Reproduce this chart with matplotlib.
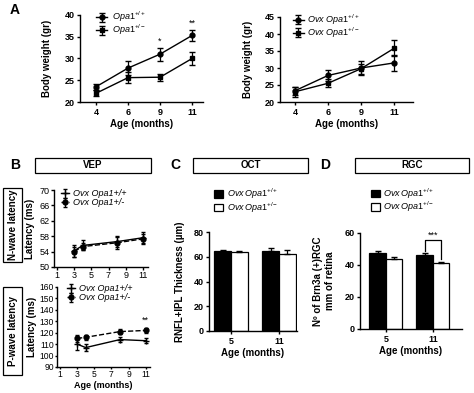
import matplotlib
matplotlib.use("Agg")
import matplotlib.pyplot as plt
from matplotlib.patches import Rectangle
import numpy as np

plt.rcParams['font.family'] = ['Liberation Sans', 'DejaVu Sans']
plt.rcParams['mathtext.fontset'] = 'custom'
plt.rcParams['mathtext.rm'] = 'Liberation Sans'
plt.rcParams['mathtext.it'] = 'Liberation Sans:italic'
plt.rcParams['font.size'] = 6.5

W, H = 474, 393

# ---- data ----
ages_a = ['4', '6', '9', '11']
wt_mean = [23.5, 27.8, 31.0, 35.3]
wt_err = [0.7, 1.6, 1.5, 1.3]
het_mean = [22.0, 25.6, 25.7, 30.0]
het_err = [0.7, 1.2, 0.8, 1.5]

ovx_wt_mean = [23.3, 27.8, 30.0, 31.5]
ovx_wt_err = [1.2, 1.5, 2.0, 2.3]
ovx_het_mean = [23.0, 25.5, 29.8, 35.8]
ovx_het_err = [1.5, 1.2, 1.5, 2.3]

ages_b = [3, 4, 8, 11]
nwave_wt = [54.2, 55.6, 56.6, 57.6]
nwave_wt_err = [1.5, 1.3, 1.5, 1.4]
nwave_het = [54.0, 55.3, 56.3, 57.3]
nwave_het_err = [1.3, 1.0, 1.5, 1.4]
pwave_wt = [110, 107, 114, 113]
pwave_wt_err = [5, 3, 2, 2]
pwave_het = [115, 116, 121, 122]
pwave_het_err = [3, 2, 2, 2]

ages_cd = ['5', '11']
oct_wt = [64.5, 64.5]
oct_wt_err = [0.7, 2.5]
oct_het = [63.5, 62.5]
oct_het_err = [0.8, 3.0]
rgc_wt = [47.5, 46.5]
rgc_wt_err = [1.5, 1.0]
rgc_het = [44.0, 41.5]
rgc_het_err = [1.0, 0.5]

fig = plt.figure(figsize=(4.74, 3.93), dpi=100)


def add_ax(x0, y0, x1, y1):
    ax = fig.add_axes([x0 / W, 1 - y1 / H, (x1 - x0) / W, (y1 - y0) / H])
    ax.spines['top'].set_visible(False)
    ax.spines['right'].set_visible(False)
    for s in ('left', 'bottom'):
        ax.spines[s].set_linewidth(1.0)
    ax.tick_params(width=1.0, length=2.5, pad=1.5, labelsize=6.5)
    return ax


def bold_ticks(ax):
    for lab in ax.get_xticklabels() + ax.get_yticklabels():
        lab.set_fontweight('bold')


def ylabel_at(ax, text, px, fs=7):
    pos = ax.get_position()
    xa = (px / W - pos.x0) / pos.width
    ax.set_ylabel(text, fontsize=fs, fontweight='bold')
    ax.yaxis.set_label_coords(xa, 0.5)


def box(x0, y0, x1, y1, text, rot=0):
    fig.add_artist(Rectangle((x0 / W, 1 - y1 / H), (x1 - x0) / W, (y1 - y0) / H,
                             transform=fig.transFigure, fill=False, lw=0.9, ec='black'))
    fig.text((x0 + x1) / 2 / W, 1 - (y0 + y1) / 2 / H, text, ha='center', va='center',
             rotation=rot, fontsize=7, fontweight='bold')


def line_panel(ax, x, m1, e1, m2, e2, lab1, lab2, mk1='o', mk2='s'):
    ax.errorbar(x, m1, yerr=e1, color='black', marker=mk1, ms=3.5, lw=1.0,
                capsize=2, elinewidth=0.9, label=lab1)
    ax.errorbar(x, m2, yerr=e2, color='black', marker=mk2, ms=3.5, lw=1.0,
                capsize=2, elinewidth=0.9, label=lab2)


# ---- Panel A left ----
ax = add_ax(80, 15, 203, 102)
xa = np.arange(len(ages_a))
line_panel(ax, xa, wt_mean, wt_err, het_mean, het_err,
           r'$\mathit{Opa1^{+/+}}$', r'$\mathit{Opa1^{+/-}}$')
ax.set_xlim(-0.5, 3.34)
ax.set_ylim(20, 40)
ax.set_yticks([20, 25, 30, 35, 40])
ax.set_xticks(xa, ages_a)
ax.set_xlabel('Age (months)', fontsize=7, fontweight='bold', labelpad=2)
ylabel_at(ax, 'Body weight (gr)', 52)
ax.text(2, 33.3, '*', ha='center', fontsize=6.5)
ax.text(3, 37.5, '**', ha='center', fontsize=6.5)
ax.legend(loc='upper left', bbox_to_anchor=(0.08, 1.13), frameon=False, fontsize=6.5,
          handlelength=1.2, labelspacing=-0.15, borderpad=0.2, handletextpad=0.5)
bold_ticks(ax)

# ---- Panel A right ----
ax = add_ax(280, 17, 413, 102)
line_panel(ax, xa, ovx_wt_mean, ovx_wt_err, ovx_het_mean, ovx_het_err,
           r'$\mathit{Ovx\ Opa1^{+/+}}$', r'$\mathit{Ovx\ Opa1^{+/-}}$')
ax.set_xlim(-0.45, 3.57)
ax.set_ylim(20, 45)
ax.set_yticks([20, 25, 30, 35, 40, 45])
ax.set_xticks(xa, ages_a)
ax.set_xlabel('Age (months)', fontsize=7, fontweight='bold', labelpad=2)
ylabel_at(ax, 'Body weight (gr)', 253)
ax.legend(loc='upper left', bbox_to_anchor=(0.05, 1.13), frameon=False, fontsize=6.5,
          handlelength=1.2, labelspacing=-0.15, borderpad=0.2, handletextpad=0.4)
bold_ticks(ax)

# ---- Panel letters and header boxes ----
fig.text(10 / W, 1 - 10 / H, 'A', fontsize=10, fontweight='bold', va='center')
fig.text(10 / W, 1 - 165 / H, 'B', fontsize=10, fontweight='bold', va='center')
fig.text(170 / W, 1 - 165 / H, 'C', fontsize=10, fontweight='bold', va='center')
fig.text(320 / W, 1 - 165 / H, 'D', fontsize=10, fontweight='bold', va='center')
box(35, 158, 151, 173, 'VEP')
box(193, 158, 308, 173, 'OCT')
box(355, 158, 469, 173, 'RGC')
box(3, 188, 22, 262, 'N-wave latency', rot=90)
box(3, 287, 22, 375, 'P-wave latency', rot=90)

# ---- Panel B: N-wave ----
ax = add_ax(54, 190, 148, 267)
ax.errorbar(ages_b, nwave_wt, yerr=nwave_wt_err, color='black', marker='+', ms=4,
            mew=1.0, lw=1.0, capsize=1.5, elinewidth=0.9, label='Ovx Opa1+/+')
ax.errorbar(ages_b, nwave_het, yerr=nwave_het_err, color='black', marker='o', ms=3.5,
            lw=1.0, ls='--', capsize=1.5, elinewidth=0.9, label='Ovx Opa1+/-')
ax.set_xlim(0.65, 11.6)
ax.set_ylim(50, 70)
ax.set_yticks(np.arange(50, 71, 4))
ax.set_xticks([1, 3, 5, 7, 9, 11])
ax.tick_params(length=2, pad=1)
ylabel_at(ax, 'Latency (ms)', 35)
leg = ax.legend(loc='upper left', bbox_to_anchor=(0.02, 1.08), frameon=False, fontsize=6.5,
                handlelength=0.9, labelspacing=0.0, borderpad=0.1, handletextpad=0.4)
for t in leg.get_texts():
    t.set_fontstyle('italic')

# ---- Panel B: P-wave ----
ax = add_ax(57, 287, 150, 367)
ax.errorbar(ages_b, pwave_wt, yerr=pwave_wt_err, color='black', marker='+', ms=4,
            mew=1.0, lw=1.0, capsize=1.5, elinewidth=0.9, label='Ovx Opa1+/+')
ax.errorbar(ages_b, pwave_het, yerr=pwave_het_err, color='black', marker='o', ms=3.5,
            lw=1.0, ls='--', capsize=1.5, elinewidth=0.9, label='Ovx Opa1+/-')
ax.set_xlim(0.65, 11.5)
ax.set_ylim(90, 160)
ax.set_yticks(np.arange(90, 161, 10))
ax.set_xticks([1, 3, 5, 7, 9, 11])
ax.tick_params(length=1.5, pad=0.5, labelsize=6.2)
ax.text(11, 129, '**', ha='center', fontsize=6.5)
ax.set_xlabel('Age (months)', fontsize=6.5, fontweight='bold')
ax.xaxis.set_label_coords(0.5, -(380.5 - 367) / (367 - 287))
ylabel_at(ax, 'Latency (ms)', 37)
leg = ax.legend(loc='upper left', bbox_to_anchor=(0.05, 1.1), frameon=False, fontsize=6.5,
                handlelength=0.9, labelspacing=0.0, borderpad=0.1, handletextpad=0.4)
for t in leg.get_texts():
    t.set_fontstyle('italic')


# ---- Panels C and D: bars ----
def bar_panel(ax, m1, e1, m2, e2):
    xc = np.arange(len(ages_cd))
    w = 0.35
    ax.bar(xc - w / 2, m1, w, color='black', ec='black', lw=0.9,
           label=r'$\mathit{Ovx\,Opa1^{+/+}}$')
    ax.bar(xc + w / 2, m2, w, color='white', ec='black', lw=0.9,
           label=r'$\mathit{Ovx\,Opa1^{+/-}}$')
    ax.errorbar(xc - w / 2, m1, yerr=[np.zeros(len(m1)), e1], fmt='none',
                ecolor='black', capsize=2.5, elinewidth=0.9)
    ax.errorbar(xc + w / 2, m2, yerr=[np.zeros(len(m2)), e2], fmt='none',
                ecolor='black', capsize=2.5, elinewidth=0.9)
    ax.set_xticks(xc, ages_cd)
    ax.set_xlabel('Age (months)', fontsize=7, fontweight='bold', labelpad=2)
    return xc, w


ax = add_ax(209, 232, 297, 331)
bar_panel(ax, oct_wt, oct_wt_err, oct_het, oct_het_err)
ax.set_xlim(-0.46, 1.375)
ax.set_ylim(0, 80)
ax.set_yticks([0, 20, 40, 60, 80])
ylabel_at(ax, 'RNFL+IPL Thickness (\u00b5m)', 185)
ax.legend(loc='lower left', bbox_to_anchor=(0.0, 1.12), frameon=False, fontsize=6.5,
          handlelength=1.0, handleheight=0.9, labelspacing=-0.1, borderpad=0.1,
          handletextpad=0.4)
bold_ticks(ax)

ax = add_ax(360, 233, 462, 329)
xc, w = bar_panel(ax, rgc_wt, rgc_wt_err, rgc_het, rgc_het_err)
ax.set_xlim(-0.55, 1.62)
ax.set_ylim(0, 60)
ax.set_yticks([0, 20, 40, 60])
ax.plot([xc[1] - w / 2, xc[1] - w / 2, xc[1] + w / 2, xc[1] + w / 2],
        [49, 55.5, 55.5, 43.5], color='black', lw=0.9)
ax.text(xc[1], 57, '***', ha='center', fontsize=6.5)
ylabel_at(ax, 'N\u00ba of Brn3a (+)RGC\nmm of retina', 335)
ax.legend(loc='lower left', bbox_to_anchor=(0.05, 1.14), frameon=False, fontsize=6.5,
          handlelength=1.0, handleheight=0.9, labelspacing=-0.1, borderpad=0.1,
          handletextpad=0.4)
bold_ticks(ax)

fig.savefig('out.png', dpi=100)
